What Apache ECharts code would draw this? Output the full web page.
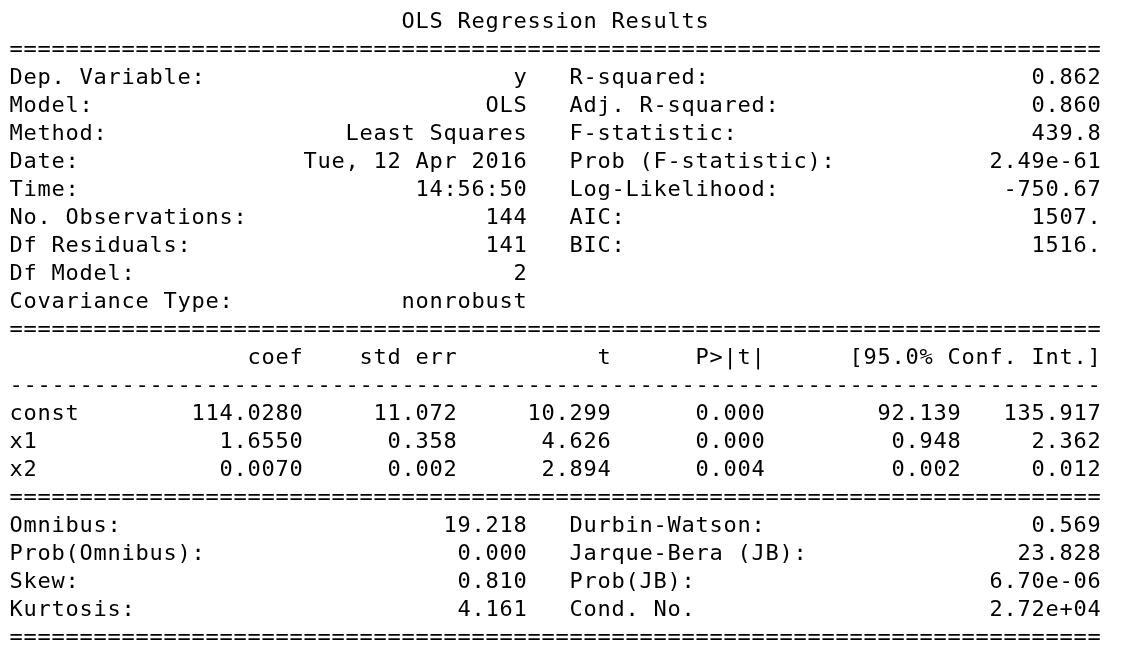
<!DOCTYPE html>
<html>
<head>
<meta charset="utf-8">
<script src="https://cdn.jsdelivr.net/npm/echarts@6/dist/echarts.min.js"></script>
<style>
html, body { margin: 0; padding: 0; background: #fff; }
#chart { width: 1140px; height: 646px; }
</style>
</head>
<body>
<div id="chart"></div>
<script>
// summary text, as printed by statsmodels (78 columns)
var title = 'OLS Regression Results';
var lineWidth = 78;

var topLeftLabels = ['Dep. Variable:', 'Model:', 'Method:', 'Date:', 'Time:', 'No. Observations:', 'Df Residuals:', 'Df Model:', 'Covariance Type:'];
var topLeftValues = ['y', 'OLS', 'Least Squares', 'Tue, 12 Apr 2016', '14:56:50', '144', '141', '2', 'nonrobust'];
var topRightLabels = ['R-squared:', 'Adj. R-squared:', 'F-statistic:', 'Prob (F-statistic):', 'Log-Likelihood:', 'AIC:', 'BIC:'];
var topRightValues = ['0.862', '0.860', '439.8', '2.49e-61', '-750.67', '1507.', '1516.'];

var coefHeaders = ['coef', 'std err', 't', 'P>|t|', '[95.0% Conf. Int.]'];
var varNames = ['const', 'x1', 'x2'];
var coef = ['114.0280', '1.6550', '0.0070'];
var stdErr = ['11.072', '0.358', '0.002'];
var tValues = ['10.299', '4.626', '2.894'];
var pValues = ['0.000', '0.000', '0.004'];
var confLow = ['92.139', '0.948', '0.002'];
var confHigh = ['135.917', '2.362', '0.012'];

var bottomLeftLabels = ['Omnibus:', 'Prob(Omnibus):', 'Skew:', 'Kurtosis:'];
var bottomLeftValues = ['19.218', '0.000', '0.810', '4.161'];
var bottomRightLabels = ['Durbin-Watson:', 'Jarque-Bera (JB):', 'Prob(JB):', 'Cond. No.'];
var bottomRightValues = ['0.569', '23.828', '6.70e-06', '2.72e+04'];

// cells: [startColumn, row, text]
var cells = [];
function left(row, col, text) { cells.push([col, row, text]); }
function right(row, endCol, text) { cells.push([endCol - text.length, row, text]); }
function rule(row, ch) { left(row, 0, new Array(lineWidth + 1).join(ch)); }

left(0, Math.floor((lineWidth - title.length) / 2), title);
rule(1, '=');
topLeftLabels.forEach(function (t, i) { left(2 + i, 0, t); });
topLeftValues.forEach(function (t, i) { right(2 + i, 37, t); });
topRightLabels.forEach(function (t, i) { left(2 + i, 40, t); });
topRightValues.forEach(function (t, i) { right(2 + i, 78, t); });
rule(11, '=');
var headerEnds = [21, 32, 43, 54, 78];
coefHeaders.forEach(function (t, i) { right(12, headerEnds[i], t); });
rule(13, '-');
var colEnds = [21, 32, 43, 54, 68, 78];
varNames.forEach(function (name, i) {
    left(14 + i, 0, name);
    [coef, stdErr, tValues, pValues, confLow, confHigh].forEach(function (col, j) {
        right(14 + i, colEnds[j], col[i]);
    });
});
rule(17, '=');
bottomLeftLabels.forEach(function (t, i) { left(18 + i, 0, t); });
bottomLeftValues.forEach(function (t, i) { right(18 + i, 37, t); });
bottomRightLabels.forEach(function (t, i) { left(18 + i, 40, t); });
bottomRightValues.forEach(function (t, i) { right(18 + i, 78, t); });
rule(22, '=');

var myChart = echarts.init(document.getElementById('chart'));

var option = {
    animation: false,
    grid: { left: 9, right: 39, top: 22, bottom: 8 },
    xAxis: { type: 'value', min: 0, max: lineWidth, show: false },
    yAxis: { type: 'value', min: 0, max: 22, inverse: true, show: false },
    series: [{
        type: 'custom',
        data: cells.map(function (c) { return [c[0], c[1]]; }),
        renderItem: function (params, api) {
            var c = cells[params.dataIndex];
            var children = [];
            // one glyph per terminal column
            for (var k = 0; k < c[2].length; k++) {
                var ch = c[2].charAt(k);
                if (ch === ' ') continue;
                var p = api.coord([c[0] + k + 0.5, c[1]]);
                children.push({
                    type: 'text',
                    x: p[0],
                    y: p[1],
                    style: {
                        text: ch,
                        fill: '#000',
                        font: '22px "DejaVu Sans Mono"',
                        align: 'center',
                        verticalAlign: 'middle'
                    }
                });
            }
            return { type: 'group', children: children };
        }
    }]
};

myChart.setOption(option);
</script>
</body>
</html>
